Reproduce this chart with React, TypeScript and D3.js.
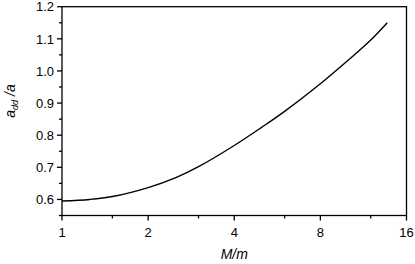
import React from "react";
import * as d3 from "d3";

const massRatio = [1, 1.25, 1.5, 2, 2.5, 3, 4, 5, 6, 8, 10, 12, 13.7];
const ratioValues = [0.595, 0.6, 0.609, 0.637, 0.668, 0.702, 0.768, 0.825, 0.874, 0.96, 1.033, 1.096, 1.15];
const xMajorTicks = [1, 2, 4, 8, 16];
const xMinorTicks = [1.5, 3, 6, 12];
const yMajorTicks = [0.6, 0.7, 0.8, 0.9, 1.0, 1.1, 1.2];
const yMinorTicks = [0.55, 0.65, 0.75, 0.85, 0.95, 1.05, 1.15];

const W = 415, H = 264;
const L = 62, R = 406.5, T = 6.7, B = 215.5;

export default function App() {
  const x = d3.scaleLog().base(2).domain([1, 16]).range([L, R]);
  const y = d3.scaleLinear().domain([0.55, 1.2]).range([B, T]);
  const pts: [number, number][] = massRatio.map((m, i) => [x(m), y(ratioValues[i])]);
  const line = d3.line().curve(d3.curveCatmullRom.alpha(0.5))(pts) || "";
  const font = "'Liberation Sans', Arial, Helvetica, sans-serif";
  return (
    <svg width={W} height={H} style={{ position: "absolute", left: 0, top: 0 }} fontFamily={font}>
      <rect x={0} y={0} width={W} height={H} fill="#fff" />
      <path d={line} fill="none" stroke="#000" strokeWidth={1.4} />
      <rect x={L} y={T} width={R - L} height={B - T} fill="none" stroke="#000" strokeWidth={1.3} />
      {yMajorTicks.map((v) => (
        <g key={"ym" + v}>
          <line x1={L - 5} x2={L} y1={y(v)} y2={y(v)} stroke="#000" strokeWidth={1.3} />
          <text x={L - 8} y={y(v)} dy="0.36em" textAnchor="end" fontSize={13}>{v.toFixed(1)}</text>
        </g>
      ))}
      {yMinorTicks.map((v) => (
        <line key={"yn" + v} x1={L - 3} x2={L} y1={y(v)} y2={y(v)} stroke="#000" strokeWidth={1.3} />
      ))}
      {xMajorTicks.map((v) => (
        <g key={"xm" + v}>
          <line x1={x(v)} x2={x(v)} y1={B} y2={B + 5} stroke="#000" strokeWidth={1.3} />
          <text x={x(v)} y={B + 21} textAnchor="middle" fontSize={13}>{v}</text>
        </g>
      ))}
      {xMinorTicks.map((v) => (
        <line key={"xn" + v} x1={x(v)} x2={x(v)} y1={B} y2={B + 3} stroke="#000" strokeWidth={1.3} />
      ))}
      <text x={(L + R) / 2} y={259} textAnchor="middle" fontSize={14} fontStyle="italic">M/m</text>
      <text transform="translate(15,101) rotate(-90)" textAnchor="middle" fontSize={14} fontStyle="italic">
        a<tspan fontSize={9} dy={3}>dd</tspan><tspan dy={-3}> /a</tspan>
      </text>
    </svg>
  );
}
